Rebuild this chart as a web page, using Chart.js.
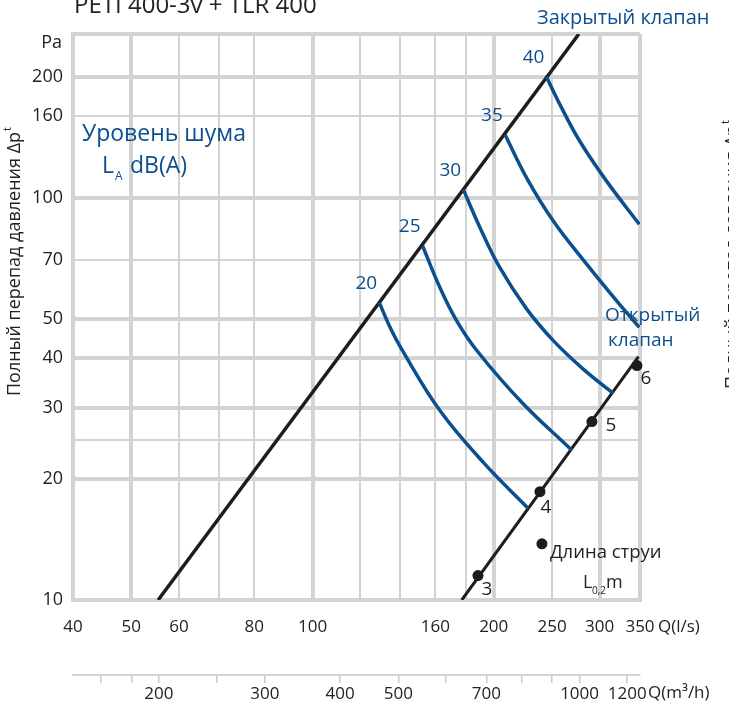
<!DOCTYPE html>
<html lang="ru">
<head>
<meta charset="utf-8">
<title>PETI 400-3v + TLR 400</title>
<script src="https://cdn.jsdelivr.net/npm/chart.js@4.4.7/dist/chart.umd.js"></script>
<style>
  html, body { margin: 0; padding: 0; background: #fff; }
  #wrap { width: 729px; height: 711px; }
</style>
</head>
<body>
<div id="wrap"><canvas id="chart" width="729" height="711"></canvas></div>
<script>
// Q в л/с, перепад давления в Па
const closedQ = [55.4, 277];
const closedP = [10, 256];
const openQ = [177, 348];
const openP = [10, 40.3];

// точки длины струи L0,2 на линии "открытый клапан"
const jetQ = [188.3, 238.7, 291.2, 345.9];
const jetP = [11.5, 18.6, 27.8, 38.3];
const jetLabels = ['3', '4', '5', '6'];
const keyQ = [240.5];
const keyP = [13.8];

// кривые уровня шума LA dB(A)
const noiseLevels = ['20', '25', '30', '35', '40'];
const noise20Q = [129.1, 134.5, 140.6, 162.8, 192.7, 228.2];
const noise20P = [55.0, 47.7, 42.1, 29.6, 21.9, 16.9];
const noise25Q = [152.4, 162.8, 173.6, 187.6, 222.8, 269.5];
const noise25P = [76.0, 59.9, 49.5, 41.7, 31.0, 23.6];
const noise30Q = [178.0, 189.8, 204.3, 226.8, 251.2, 281.4, 315.6];
const noise30P = [105.1, 84.4, 67.5, 53.0, 44.2, 37.6, 32.7];
const noise35Q = [208.8, 226.8, 251.2, 285.4, 320.1, 349];
const noise35P = [143.9, 112.3, 87.7, 68.5, 55.5, 47.7];
const noise40Q = [244.8, 257.7, 278, 308, 349];
const noise40P = [200, 170.8, 138.5, 110.2, 86.1];

// оси
const xTicks = [40, 50, 60, 70, 80, 100, 120, 140, 160, 180, 200, 250, 300, 350];
const xLabels = ['40', '50', '60', '', '80', '100', '', '', '160', '', '200', '250', '300', '350'];
const xThick = [40, 50, 100, 200, 300, 350];
const yTicks = [10, 20, 25, 30, 40, 50, 70, 100, 160, 200, 256];
const yLabels = ['10', '20', '', '30', '40', '50', '70', '100', '160', '200', ''];
const yThick = [10, 20, 30, 40, 50, 100, 200, 256];
const m3hTicks = [160, 180, 200, 250, 300, 400, 500, 600, 700, 800, 900, 1000, 1200];
const m3hLabels = ['', '', '200', '', '300', '400', '500', '', '700', '', '', '1000', '1200'];

const BLUE = '#0c4f8e';
const BLACK = '#1d1d1d';
const GRID = '#d3d3d3';
const FONT = '"Open Sans", "Noto Sans", sans-serif';

// смещения подписей точек 3..6 (px)
const jetLabelOffset = [[9, 14], [6, 16], [19, 4], [9, 13]];

function pts(qs, ps) {
  return qs.map((q, i) => ({ x: q, y: ps[i] }));
}

const noiseQ = [noise20Q, noise25Q, noise30Q, noise35Q, noise40Q];
const noiseP = [noise20P, noise25P, noise30P, noise35P, noise40P];

const datasets = [];
noiseQ.forEach((q, i) => {
  datasets.push({
    data: pts(q, noiseP[i]),
    showLine: true,
    borderColor: BLUE,
    borderWidth: 3.5,
    pointRadius: 0,
    tension: 0.4,
  });
});
datasets.push({
  data: pts(closedQ, closedP),
  showLine: true, borderColor: BLACK, borderWidth: 3.5, pointRadius: 0,
});
datasets.push({
  data: pts(openQ, openP),
  showLine: true, borderColor: BLACK, borderWidth: 3, pointRadius: 0,
});
datasets.push({
  data: pts(jetQ, jetP),
  showLine: false, pointRadius: 5.5, pointBackgroundColor: BLACK, pointBorderWidth: 0,
  clip: false,
});
datasets.push({
  data: pts(keyQ, keyP),
  showLine: false, pointRadius: 5.5, pointBackgroundColor: BLACK, pointBorderWidth: 0,
});

function text(ctx, s, x, y, size, color, align) {
  ctx.font = size + 'px ' + FONT;
  ctx.fillStyle = color;
  ctx.textAlign = align || 'left';
  ctx.textBaseline = 'middle';
  ctx.fillText(s, x, y);
  return ctx.measureText(s).width;
}

function axisTitle(ctx, cx, cy) {
  ctx.save();
  ctx.translate(cx, cy);
  ctx.rotate(-Math.PI / 2);
  ctx.font = '18px ' + FONT;
  const main = 'Полный перепад давления Δp';
  const w = ctx.measureText(main).width;
  ctx.font = '11px ' + FONT;
  const wt = ctx.measureText('t').width;
  const x0 = -(w + wt) / 2;
  text(ctx, main, x0, 0, 18, '#222');
  text(ctx, 't', x0 + w + 1, -7, 11, '#222');
  ctx.restore();
}

const labelsPlugin = {
  id: 'labels',
  afterDraw(chart) {
    const ctx = chart.ctx;
    const xs = chart.scales.x, ys = chart.scales.y;
    ctx.save();

    // заголовок (обрезан сверху)
    ctx.font = '24px ' + FONT;
    ctx.fillStyle = '#222';
    ctx.textAlign = 'left';
    ctx.textBaseline = 'alphabetic';
    ctx.fillText('PETI 400-3v + TLR 400', 74, 13);

    text(ctx, 'Pa', 62, 43, 18, '#222', 'right');
    text(ctx, 'Q(l/s)', 658, 627, 17, '#222');
    text(ctx, 'Q(m³/h)', 648, 693, 17, '#222');

    axisTitle(ctx, 15, 262);
    axisTitle(ctx, 733, 255);

    text(ctx, 'Закрытый клапан', 537, 18, 20, BLUE);
    text(ctx, 'Открытый', 605, 316, 19, BLUE);
    text(ctx, 'клапан', 608, 341, 19, BLUE);

    text(ctx, 'Уровень шума', 82, 134, 23, BLUE);
    text(ctx, 'L', 102, 166, 23, BLUE);
    text(ctx, 'A', 115, 177, 12, BLUE);
    text(ctx, 'dB(A)', 130, 166, 23, BLUE);

    // подписи уровней шума у начала кривых
    noiseLevels.forEach((lv, i) => {
      const px = xs.getPixelForValue(noiseQ[i][0]);
      const py = ys.getPixelForValue(noiseP[i][0]);
      text(ctx, lv, px - 13, py - 19, 19, BLUE, 'center');
    });

    jetLabels.forEach((lb, i) => {
      const px = xs.getPixelForValue(jetQ[i]);
      const py = ys.getPixelForValue(jetP[i]);
      text(ctx, lb, px + jetLabelOffset[i][0], py + jetLabelOffset[i][1], 19, '#222', 'center');
    });

    const kx = xs.getPixelForValue(keyQ[0]);
    const ky = ys.getPixelForValue(keyP[0]);
    text(ctx, 'Длина струи', kx + 8, ky + 9, 18.5, '#222');
    text(ctx, 'L', kx + 41, ky + 39, 18, '#222');
    text(ctx, '0,2', kx + 50, ky + 47, 10, '#222');
    text(ctx, 'm', kx + 64, ky + 39, 18, '#222');

    ctx.restore();
  }
};

function labelFrom(values, labels) {
  return function (v) {
    const i = values.indexOf(v);
    return i >= 0 ? labels[i] : '';
  };
}

new Chart(document.getElementById('chart'), {
  type: 'scatter',
  data: { datasets: datasets },
  options: {
    responsive: false,
    animation: false,
    events: [],
    layout: { padding: { top: 34, right: 89, left: 0, bottom: 0 } },
    plugins: { legend: { display: false }, tooltip: { enabled: false } },
    scales: {
      x: {
        type: 'logarithmic',
        position: 'bottom',
        min: 40,
        max: 350,
        weight: 0,
        afterBuildTicks: (s) => { s.ticks = xTicks.map((v) => ({ value: v })); },
        afterFit: (s) => { s.height = 75; },
        ticks: {
          autoSkip: false, maxRotation: 0, padding: 17,
          color: '#222', font: { family: FONT, size: 17 },
          callback: labelFrom(xTicks, xLabels),
        },
        grid: {
          color: GRID,
          drawTicks: false,
          lineWidth: (c) => (c.tick && xThick.includes(c.tick.value) ? 4 : 2),
        },
        border: { display: true, color: GRID, width: 4 },
      },
      x2: {
        type: 'logarithmic',
        position: 'bottom',
        min: 40 * 3.6,
        max: 350 * 3.6,
        weight: 1,
        afterBuildTicks: (s) => { s.ticks = m3hTicks.map((v) => ({ value: v })); },
        afterFit: (s) => { s.height = 36; },
        ticks: {
          autoSkip: false, maxRotation: 0, padding: 1,
          color: '#222', font: { family: FONT, size: 17 },
          callback: labelFrom(m3hTicks, m3hLabels),
        },
        grid: {
          drawOnChartArea: false, drawTicks: true, tickLength: 8,
          color: '#c8c8c8', lineWidth: 1.5,
        },
        border: { display: true, color: '#d3d3d3', width: 2 },
      },
      y: {
        type: 'logarithmic',
        min: 10,
        max: 256,
        afterBuildTicks: (s) => { s.ticks = yTicks.map((v) => ({ value: v })); },
        afterFit: (s) => { s.width = 73; },
        ticks: {
          autoSkip: false, padding: 10,
          color: '#222', font: { family: FONT, size: 18 },
          callback: labelFrom(yTicks, yLabels),
        },
        grid: {
          color: GRID,
          drawTicks: false,
          lineWidth: (c) => (c.tick && yThick.includes(c.tick.value) ? 4 : 2),
        },
        border: { display: true, color: GRID, width: 4 },
      },
    },
  },
  plugins: [labelsPlugin],
});
</script>
</body>
</html>
